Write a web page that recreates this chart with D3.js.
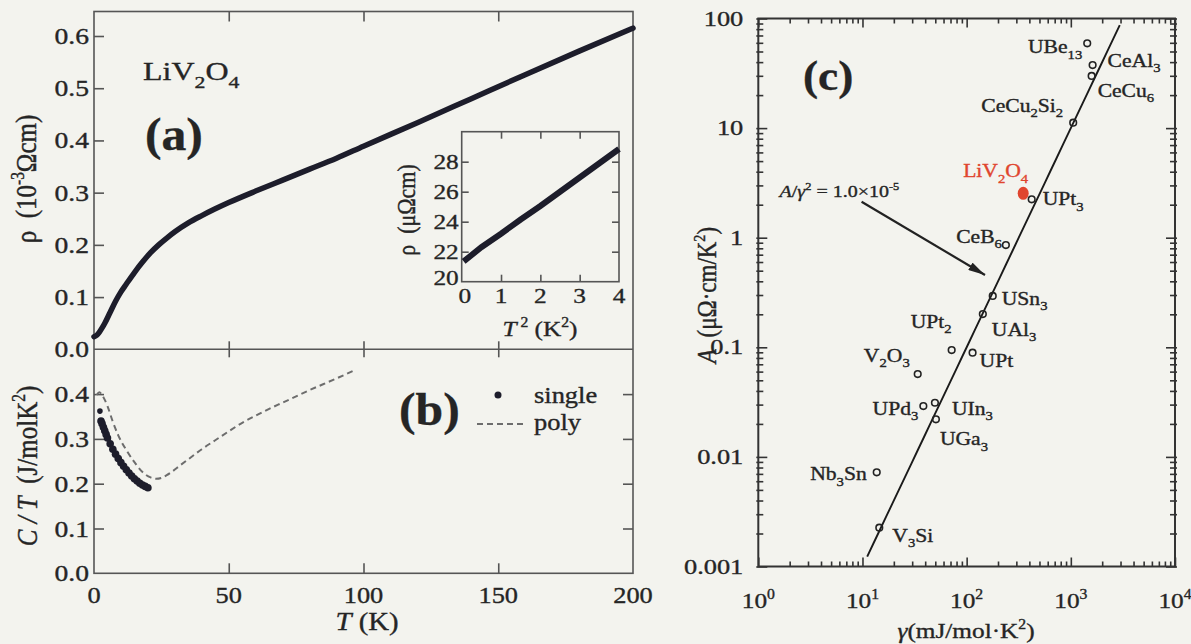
<!DOCTYPE html>
<html>
<head>
<meta charset="utf-8">
<script src="https://cdn.jsdelivr.net/npm/d3@7"></script>
<style>
  html, body { margin: 0; padding: 0; background: #f3f3ee; }
  svg { display: block; }
  text { font-family: "Liberation Serif", "Times New Roman", serif; fill: #252525; stroke: #252525; stroke-width: 0.35px; white-space: pre; }
</style>
</head>
<body>
<div id="chart"></div>
<script>
// ---------- (a) resistivity of LiV2O4 ----------
const rhoT   = [0, 1, 2, 3, 4, 6, 8, 10, 12, 15, 18, 21, 24, 27, 30, 35, 40, 45, 50, 60, 70, 80, 90, 100, 120, 140, 160, 180, 200];
const rhoVal = [0.024, 0.027, 0.033, 0.041, 0.050, 0.071, 0.092, 0.110, 0.125, 0.147, 0.167, 0.185, 0.200, 0.213, 0.225, 0.242, 0.256, 0.269, 0.281, 0.303, 0.324, 0.345, 0.366, 0.389, 0.434, 0.480, 0.526, 0.571, 0.615];

// inset: rho vs T^2
const insetT2  = [0.05, 0.5, 1.0, 1.5, 2.0, 2.5, 3.0, 3.5, 4.0];
const insetRho = [21.35, 22.3, 23.2, 24.15, 25.05, 26.0, 26.95, 27.9, 28.85];

// ---------- (b) specific heat C/T ----------
const singleT  = [2.2, 2.6, 3, 3.5, 4, 4.5, 5, 6, 7, 8, 9, 10, 11, 12, 13, 14, 15, 16, 17, 18, 19, 20];
const singleCT = [0.362, 0.340, 0.334, 0.326, 0.318, 0.310, 0.302, 0.289, 0.277, 0.266, 0.256, 0.247, 0.239, 0.231, 0.224, 0.217, 0.211, 0.206, 0.201, 0.197, 0.194, 0.191];
const polyT    = [1, 2, 3, 4, 5, 7, 9, 12, 15, 18, 21, 23, 25, 27, 29, 32, 36, 40, 45, 50, 55, 60, 65, 70, 75, 80, 85, 90, 97];
const polyCT   = [0.398, 0.404, 0.398, 0.387, 0.373, 0.338, 0.308, 0.275, 0.248, 0.226, 0.214, 0.211, 0.213, 0.219, 0.227, 0.241, 0.259, 0.277, 0.297, 0.317, 0.336, 0.352, 0.367, 0.381, 0.395, 0.409, 0.422, 0.435, 0.454];

// ---------- (c) Kadowaki-Woods plot ----------
const compounds = ["UBe_{13}", "CeAl_{3}", "CeCu_{6}", "CeCu_{2}Si_{2}", "LiV_{2}O_{4}", "UPt_{3}", "CeB_{6}", "USn_{3}", "UAl_{3}", "UPt_{2}", "UPt", "V_{2}O_{3}", "UPd_{3}", "UIn_{3}", "UGa_{3}", "Nb_{3}Sn", "V_{3}Si"];
const gammaVals = [1437, 1619, 1584, 1054, 349, 421, 238, 178, 143, 71.8, 114, 33.9, 38.4, 49.6, 50.7, 13.7, 14.5];
const aVals     = [59.4, 37.6, 29.9, 11.2, 2.54, 2.24, 0.857, 0.294, 0.201, 0.0944, 0.0893, 0.057, 0.0291, 0.0312, 0.022, 0.00723, 0.00226];
const kwRatio = 1.0e-5;            // A / gamma^2
const kwGammaRange = [11.1, 2950]; // extent of the drawn line

// tick labels
const tTicks      = [0, 50, 100, 150, 200];
const rhoTicks    = [0.0, 0.1, 0.2, 0.3, 0.4, 0.5, 0.6];
const ctTicks     = [0.0, 0.1, 0.2, 0.3, 0.4];
const insetXTicks = [0, 1, 2, 3, 4];
const insetYTicks = [20, 22, 24, 26, 28];
const gammaTicks  = [1, 10, 100, 1000, 10000];
const gammaTickLabels = ["10^{0}", "10^{1}", "10^{2}", "10^{3}", "10^{4}"];
const aTicks      = [0.001, 0.01, 0.1, 1, 10, 100];
const aTickLabels = ["0.001", "0.01", "0.1", "1", "10", "100"];

// label placement for compounds: [dx, dy, anchor]
const compoundLabelPlace = [
  [-5, 10, "end"], [15, 2, "start"], [6, 21, "start"], [-10, -11, "end"], [5, -16, "end"],
  [11, 6, "start"], [-4, -2, "end"], [9, 9, "start"], [9, 22, "start"], [0, -22, "end"],
  [7, 14, "start"], [-8, -12, "end"], [-5, 9, "end"], [17, 12, "start"], [4, 26, "start"],
  [-10, 8, "end"], [13, 14, "start"]
];

// ---------- drawing ----------
const W = 1191, H = 644;
const svg = d3.select("#chart").append("svg").attr("width", W).attr("height", H);
svg.append("rect").attr("width", W).attr("height", H).attr("fill", "#f3f3ee");

const ink = "#1d1d2b";
const axisCol = "#555";
const SX = 1.15; // horizontal glyph stretch of the figure's lettering

// rich text: _{..} subscript, ^{..} superscript, ~{..} italic
function rich(g, x, y, str, o = {}) {
  const fs = o.size || 22, sx = o.sx || SX;
  const rot = o.rotate ? " rotate(-90) scale(1," + sx + ")" : " scale(" + sx + ",1)";
  const t = g.append("text")
    .attr("transform", "translate(" + x + "," + y + ")" + rot)
    .attr("font-size", fs)
    .attr("text-anchor", o.anchor || "start")
    .attr("font-weight", o.bold ? "bold" : null);
  if (o.fill) t.style("fill", o.fill).style("stroke", o.fill);
  const parts = str.split(/(_\{[^}]*\}|\^\{[^}]*\}|~\{[^}]*\})/).filter(s => s.length);
  let shift = 0, afterItalic = false;
  parts.forEach(p => {
    const ts = t.append("tspan");
    let target = 0, txt = p, size = null, ital = false;
    if (p.startsWith("_{")) { target = 0.3 * fs; txt = p.slice(2, -1); size = 0.68 * fs; }
    else if (p.startsWith("^{")) { target = -0.42 * fs; txt = p.slice(2, -1); size = 0.62 * fs; }
    else if (p.startsWith("~{")) { txt = p.slice(2, -1); ital = true; }
    ts.attr("dy", target - shift).text(txt);
    if (afterItalic && o.italicGap) ts.attr("dx", o.italicGap);
    if (size) ts.attr("font-size", size);
    if (ital) ts.attr("font-style", "italic");
    shift = target;
    afterItalic = ital;
  });
  return t;
}

// ===== Panels (a) and (b) =====
const xT = d3.scaleLinear().domain([0, 200]).range([94, 633]);
const yRho = d3.scaleLinear().domain([0, 0.6]).range([349.3, 36]);
const yCT = d3.scaleLinear().domain([0, 0.5]).range([573.3, 349.3]);
const topA = 11.5;

const gA = svg.append("g");
// frames
gA.append("rect").attr("x", xT(0)).attr("y", topA).attr("width", xT(200) - xT(0)).attr("height", yCT(0) - topA)
  .attr("fill", "none").attr("stroke", axisCol).attr("stroke-width", 1.6);
gA.append("line").attr("x1", xT(0)).attr("x2", xT(200)).attr("y1", yRho(0)).attr("y2", yRho(0))
  .attr("stroke", axisCol).attr("stroke-width", 1.6);

const midT = tTicks.filter(d => d > 0 && d < 200);
// (a) ticks: left and top (inward)
gA.append("g").attr("transform", "translate(" + xT(0) + ",0)")
  .call(d3.axisLeft(yRho).tickValues(rhoTicks.filter(d => d > 0)).tickSize(-10).tickFormat(""));
gA.append("g").attr("transform", "translate(0," + topA + ")")
  .call(d3.axisTop(xT).tickValues(midT).tickSize(-10).tickFormat(""));
// shared boundary ticks crossing the line
gA.append("g").attr("transform", "translate(0," + (yRho(0) + 8) + ")")
  .call(d3.axisTop(xT).tickValues(midT).tickSize(16).tickFormat(""));
// (b) ticks: left, right, bottom (inward)
gA.append("g").attr("transform", "translate(" + xT(0) + ",0)")
  .call(d3.axisLeft(yCT).tickValues(ctTicks.filter(d => d > 0)).tickSize(-10).tickFormat(""));
gA.append("g").attr("transform", "translate(" + xT(200) + ",0)")
  .call(d3.axisRight(yCT).tickValues(ctTicks.filter(d => d > 0)).tickSize(-10).tickFormat(""));
gA.append("g").attr("transform", "translate(0," + yCT(0) + ")")
  .call(d3.axisBottom(xT).tickValues(midT).tickSize(-10).tickFormat(""));
gA.selectAll(".domain").remove();
gA.selectAll(".tick line").attr("stroke", axisCol).attr("stroke-width", 1.6);

// tick labels
rhoTicks.forEach(v => rich(gA, xT(0) - 5, yRho(v) + 8, v.toFixed(1), { size: 23, anchor: "end", sx: 1.2 }));
ctTicks.forEach(v => rich(gA, xT(0) - 5, yCT(v) + 8, v.toFixed(1), { size: 23, anchor: "end", sx: 1.2 }));
tTicks.forEach(v => rich(gA, xT(v), 603, String(v), { size: 24, anchor: "middle", sx: 1.1 }));

// axis titles
rich(gA, 367, 630, "~{T} (K)", { size: 25, anchor: "middle" });
rich(gA, 36, 179, "ρ  (10^{-3}Ωcm)", { size: 25, anchor: "middle", rotate: true });
rich(gA, 37, 466, "~{C / T}  (J/molK^{2})", { size: 25, anchor: "middle", rotate: true });

// panel annotations
rich(gA, 143, 80, "LiV_{2}O_{4}", { size: 25, sx: 1.28 });
rich(gA, 145, 150, "(a)", { size: 46, bold: true, sx: 1.08 });
rich(gA, 399, 425, "(b)", { size: 46, bold: true, sx: 1.08 });

// (a) resistivity curve
const rhoPts = rhoT.map((t, i) => [t, rhoVal[i]]);
gA.append("path").datum(rhoPts)
  .attr("d", d3.line().x(d => xT(d[0])).y(d => yRho(d[1])).curve(d3.curveMonotoneX))
  .attr("fill", "none").attr("stroke", ink).attr("stroke-width", 5.5).attr("stroke-linecap", "round");

// (b) poly dashed curve and single-crystal points
const polyPts = polyT.map((t, i) => [t, polyCT[i]]);
gA.append("path").datum(polyPts)
  .attr("d", d3.line().x(d => xT(d[0])).y(d => yCT(d[1])).curve(d3.curveMonotoneX))
  .attr("fill", "none").attr("stroke", "#6d6d6d").attr("stroke-width", 2).attr("stroke-dasharray", "6,4");
gA.append("g").selectAll("circle").data(singleT.map((t, i) => [t, singleCT[i]])).join("circle")
  .attr("cx", d => xT(d[0])).attr("cy", d => yCT(d[1])).attr("r", (d, i) => i === 0 ? 2.8 : 3.8).attr("fill", ink);

// (b) legend
gA.append("circle").attr("cx", 498).attr("cy", 395).attr("r", 3.5).attr("fill", ink);
rich(gA, 534, 403, "single", { size: 23 });
gA.append("line").attr("x1", 477).attr("x2", 523).attr("y1", 424).attr("y2", 424)
  .attr("stroke", "#6d6d6d").attr("stroke-width", 2).attr("stroke-dasharray", "6,4");
rich(gA, 534, 430, "poly", { size: 23 });

// ===== inset =====
const xI = d3.scaleLinear().domain([0, 4]).range([461.7, 619]);
const yI = d3.scaleLinear().domain([20, 30]).range([281.7, 131.7]);
const gI = svg.append("g");
gI.append("rect").attr("x", xI(0)).attr("y", yI(30)).attr("width", xI(4) - xI(0)).attr("height", yI(20) - yI(30))
  .attr("fill", "none").attr("stroke", axisCol).attr("stroke-width", 1.6);
const inX = insetXTicks.filter(d => d > 0 && d < 4), inY = insetYTicks.filter(d => d > 20);
gI.append("g").attr("transform", "translate(0," + yI(20) + ")").call(d3.axisBottom(xI).tickValues(inX).tickSize(-7).tickFormat(""));
gI.append("g").attr("transform", "translate(0," + yI(30) + ")").call(d3.axisTop(xI).tickValues(inX).tickSize(-7).tickFormat(""));
gI.append("g").attr("transform", "translate(" + xI(0) + ",0)").call(d3.axisLeft(yI).tickValues(inY).tickSize(-7).tickFormat(""));
gI.append("g").attr("transform", "translate(" + xI(4) + ",0)").call(d3.axisRight(yI).tickValues(inY).tickSize(-7).tickFormat(""));
gI.selectAll(".domain").remove();
gI.selectAll(".tick line").attr("stroke", axisCol).attr("stroke-width", 1.6);
insetYTicks.forEach(v => rich(gI, xI(0) - 3, yI(v) + (v === 20 ? 3 : 7), String(v), { size: 22, anchor: "end" }));
insetXTicks.forEach(v => rich(gI, xI(v) + (v === 0 ? 3 : 0), 303, String(v), { size: 22, anchor: "middle" }));
rich(gI, 540, 336, "~{T}^{ 2} (K^{2})", { size: 22, anchor: "middle" });
rich(gI, 415, 210, "ρ  (μΩcm)", { size: 22, anchor: "middle", rotate: true });
gI.append("path").datum(insetT2.map((t, i) => [t, insetRho[i]]))
  .attr("d", d3.line().x(d => xI(d[0])).y(d => yI(d[1])))
  .attr("fill", "none").attr("stroke", ink).attr("stroke-width", 6);

// ===== Panel (c) =====
const xG = d3.scaleLog().domain([1, 1e4]).range([758.3, 1175]);
const yA = d3.scaleLog().domain([1e-3, 1e2]).range([566.5, 18.5]);
const gC = svg.append("g");
const cCol = "#333";
gC.append("rect").attr("x", xG(1)).attr("y", yA(100)).attr("width", xG(1e4) - xG(1)).attr("height", yA(1e-3) - yA(100))
  .attr("fill", "none").attr("stroke", cCol).attr("stroke-width", 2);

const isMajor = d => Math.abs(Math.log10(d) - Math.round(Math.log10(d))) < 1e-9;
const gT = xG.ticks(), aT = yA.ticks();
const axes = [
  [d3.axisBottom(xG).tickValues(gT), "translate(0," + yA(1e-3) + ")", "v", -1],
  [d3.axisTop(xG).tickValues(gT), "translate(0," + yA(100) + ")", "v", 1],
  [d3.axisLeft(yA).tickValues(aT), "translate(" + xG(1) + ",0)", "h", 1],
  [d3.axisRight(yA).tickValues(aT), "translate(" + xG(1e4) + ",0)", "h", -1]
];
axes.forEach(([ax, tr, dir, sgn]) => {
  const g = gC.append("g").attr("transform", tr).call(ax.tickFormat(""));
  g.select(".domain").remove();
  g.selectAll(".tick line")
    .attr("stroke", cCol).attr("stroke-width", 1.6)
    .each(function (d) {
      const len = isMajor(d) ? 9 : 5;
      if (dir === "v") d3.select(this).attr("y1", 0).attr("y2", sgn * len);
      else d3.select(this).attr("x1", -sgn * 2).attr("x2", sgn * len);
    });
});

gammaTicks.forEach((v, i) => rich(gC, xG(v), 608, gammaTickLabels[i], { size: 22, anchor: "middle" }));
aTicks.forEach((v, i) => rich(gC, xG(1) - 15, yA(v) + 7, aTickLabels[i], { size: 22, anchor: "end", sx: 1.2 }));
rich(gC, 966, 638, "~{γ}(mJ/mol·K^{2})", { size: 22, anchor: "middle" });
rich(gC, 716, 295, "~{A} (μΩ·cm/K^{2})", { size: 23, anchor: "middle", rotate: true, italicGap: 6 });
rich(gC, 803, 90, "(c)", { size: 42, bold: true, sx: 1.08 });

// A = 1e-5 gamma^2 line
const kwPts = d3.range(0, 41).map(i => {
  const lg = Math.log10(kwGammaRange[0]) + i / 40 * (Math.log10(kwGammaRange[1]) - Math.log10(kwGammaRange[0]));
  const g = Math.pow(10, lg);
  return [g, kwRatio * g * g];
});
gC.append("path").datum(kwPts)
  .attr("d", d3.line().x(d => xG(d[0])).y(d => yA(d[1])))
  .attr("fill", "none").attr("stroke", "#1a1a1a").attr("stroke-width", 1.9);

// annotation arrow
const arrowFrom = [9.8, 2.13], arrowTo = [150, 0.457];
const defs = svg.append("defs");
defs.append("marker").attr("id", "arrowhead").attr("viewBox", "0 0 12 6")
  .attr("refX", 12).attr("refY", 3).attr("markerWidth", 17).attr("markerHeight", 9)
  .attr("markerUnits", "userSpaceOnUse").attr("orient", "auto")
  .append("path").attr("d", "M0,0 L12,3 L0,6 Z").attr("fill", "#222");
gC.append("line")
  .attr("x1", xG(arrowFrom[0])).attr("y1", yA(arrowFrom[1]))
  .attr("x2", xG(arrowTo[0])).attr("y2", yA(arrowTo[1]))
  .attr("stroke", "#222").attr("stroke-width", 2.2).attr("marker-end", "url(#arrowhead)");
rich(gC, xG(arrowFrom[0]) - 82, yA(arrowFrom[1]) - 5, "~{A}/~{γ}^{2} = 1.0×10^{-5}", { size: 16, sx: 1.25 });

// compound points and labels
const red = "#e0452e";
compounds.forEach((name, i) => {
  const cx = xG(gammaVals[i]), cy = yA(aVals[i]);
  const hl = name.startsWith("LiV");
  if (hl) {
    gC.append("ellipse").attr("cx", cx).attr("cy", cy).attr("rx", 5.5).attr("ry", 6.5).attr("fill", red);
  } else {
    gC.append("circle").attr("cx", cx).attr("cy", cy).attr("r", 3.3)
      .attr("fill", "none").attr("stroke", "#222").attr("stroke-width", 1.6);
  }
  const [dx, dy, anchor] = compoundLabelPlace[i];
  rich(gC, cx + dx, cy + dy, name, { size: 18, anchor: anchor, sx: 1.2, fill: hl ? red : null });
});
</script>
</body>
</html>
